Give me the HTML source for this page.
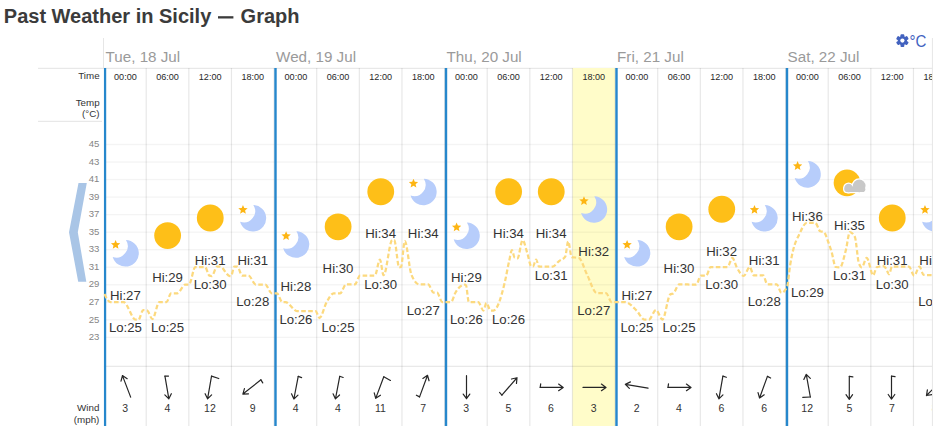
<!DOCTYPE html>
<html><head><meta charset="utf-8"><style>
html,body{margin:0;padding:0;background:#fff;width:940px;height:426px;overflow:hidden}
svg{display:block}
text{font-family:"Liberation Sans", sans-serif}
</style></head><body>
<svg width="940" height="426" viewBox="0 0 940 426">
<defs><clipPath id="chart"><rect x="103.7" y="68" width="828.30" height="358"/></clipPath>
<clipPath id="top"><rect x="103.7" y="38" width="828.30" height="30"/></clipPath></defs>

<text x="3.8" y="22.8" font-size="20" font-weight="bold" fill="#3b3b3b">Past Weather in Sicily</text>
<rect x="218" y="16.2" width="15.4" height="2.3" fill="#3b3b3b"/>
<text x="240.6" y="22.8" font-size="20" font-weight="bold" fill="#3b3b3b">Graph</text>
<g transform="translate(902.4,40.6)" fill="#4262bf"><circle r="4.5"/><rect x="-1.9" y="-6.3" width="3.8" height="3.6" rx="0.9" transform="rotate(0)"/><rect x="-1.9" y="-6.3" width="3.8" height="3.6" rx="0.9" transform="rotate(60)"/><rect x="-1.9" y="-6.3" width="3.8" height="3.6" rx="0.9" transform="rotate(120)"/><rect x="-1.9" y="-6.3" width="3.8" height="3.6" rx="0.9" transform="rotate(180)"/><rect x="-1.9" y="-6.3" width="3.8" height="3.6" rx="0.9" transform="rotate(240)"/><rect x="-1.9" y="-6.3" width="3.8" height="3.6" rx="0.9" transform="rotate(300)"/><circle r="2.1" fill="#fff"/></g>
<text x="0" y="0" font-size="16.2" fill="#4262bf" transform="translate(909.6,47.2) scale(0.93,1)">°C</text>
<rect x="38" y="67.8" width="894.4" height="1.1" fill="#e6e6e6"/>
<rect x="38" y="120.8" width="64" height="1.1" fill="#e6e6e6"/>
<rect x="103" y="38" width="1" height="30" fill="#e6e6e6"/>
<rect x="931.9" y="38" width="1" height="388" fill="#e6e6e6"/>
<g clip-path="url(#top)">
<text x="105.60" y="62.4" font-size="15.2" fill="#9a9a9a">Tue, 18 Jul</text>
<text x="276.10" y="62.4" font-size="15.2" fill="#9a9a9a">Wed, 19 Jul</text>
<text x="446.60" y="62.4" font-size="15.2" fill="#9a9a9a">Thu, 20 Jul</text>
<text x="617.10" y="62.4" font-size="15.2" fill="#9a9a9a">Fri, 21 Jul</text>
<text x="787.60" y="62.4" font-size="15.2" fill="#9a9a9a">Sat, 22 Jul</text>
</g>
<g clip-path="url(#chart)">
<rect x="572.58" y="68" width="42.62" height="358" fill="#fffcc9"/>
<rect x="103.7" y="336.65" width="830" height="1.4" fill="#000" fill-opacity="0.045"/>
<rect x="103.7" y="319.12" width="830" height="1.4" fill="#000" fill-opacity="0.045"/>
<rect x="103.7" y="301.59" width="830" height="1.4" fill="#000" fill-opacity="0.045"/>
<rect x="103.7" y="284.06" width="830" height="1.4" fill="#000" fill-opacity="0.045"/>
<rect x="103.7" y="266.52" width="830" height="1.4" fill="#000" fill-opacity="0.045"/>
<rect x="103.7" y="248.99" width="830" height="1.4" fill="#000" fill-opacity="0.045"/>
<rect x="103.7" y="231.46" width="830" height="1.4" fill="#000" fill-opacity="0.045"/>
<rect x="103.7" y="213.93" width="830" height="1.4" fill="#000" fill-opacity="0.045"/>
<rect x="103.7" y="196.40" width="830" height="1.4" fill="#000" fill-opacity="0.045"/>
<rect x="103.7" y="178.86" width="830" height="1.4" fill="#000" fill-opacity="0.045"/>
<rect x="103.7" y="161.33" width="830" height="1.4" fill="#000" fill-opacity="0.045"/>
<rect x="103.7" y="143.80" width="830" height="1.4" fill="#000" fill-opacity="0.045"/>
<rect x="103.7" y="365.7" width="830" height="1.3" fill="#000" fill-opacity="0.085"/>
<rect x="145.62" y="68" width="1.2" height="358" fill="rgba(0,0,0,0.095)"/>
<rect x="188.25" y="68" width="1.2" height="358" fill="rgba(0,0,0,0.095)"/>
<rect x="230.88" y="68" width="1.2" height="358" fill="rgba(0,0,0,0.095)"/>
<rect x="273.50" y="68" width="1.2" height="358" fill="rgba(0,0,0,0.095)"/>
<rect x="316.12" y="68" width="1.2" height="358" fill="rgba(0,0,0,0.095)"/>
<rect x="358.75" y="68" width="1.2" height="358" fill="rgba(0,0,0,0.095)"/>
<rect x="401.38" y="68" width="1.2" height="358" fill="rgba(0,0,0,0.095)"/>
<rect x="444.00" y="68" width="1.2" height="358" fill="rgba(0,0,0,0.095)"/>
<rect x="486.62" y="68" width="1.2" height="358" fill="rgba(0,0,0,0.095)"/>
<rect x="529.25" y="68" width="1.2" height="358" fill="rgba(0,0,0,0.095)"/>
<rect x="571.88" y="68" width="1.2" height="358" fill="rgba(0,0,0,0.095)"/>
<rect x="614.50" y="68" width="1.2" height="358" fill="rgba(0,0,0,0.095)"/>
<rect x="657.12" y="68" width="1.2" height="358" fill="rgba(0,0,0,0.095)"/>
<rect x="699.75" y="68" width="1.2" height="358" fill="rgba(0,0,0,0.095)"/>
<rect x="742.38" y="68" width="1.2" height="358" fill="rgba(0,0,0,0.095)"/>
<rect x="785.00" y="68" width="1.2" height="358" fill="rgba(0,0,0,0.095)"/>
<rect x="827.62" y="68" width="1.2" height="358" fill="rgba(0,0,0,0.095)"/>
<rect x="870.25" y="68" width="1.2" height="358" fill="rgba(0,0,0,0.095)"/>
<rect x="912.88" y="68" width="1.2" height="358" fill="rgba(0,0,0,0.095)"/>
<rect x="955.50" y="68" width="1.2" height="358" fill="rgba(0,0,0,0.095)"/>
<rect x="103.80" y="68" width="2.4" height="358" fill="#2687cc"/>
<rect x="274.30" y="68" width="2.4" height="358" fill="#2687cc"/>
<rect x="444.80" y="68" width="2.4" height="358" fill="#2687cc"/>
<rect x="615.30" y="68" width="2.4" height="358" fill="#2687cc"/>
<rect x="785.80" y="68" width="2.4" height="358" fill="#2687cc"/>
<path d="M104.40,293.90 C106.37,297.95 108.33,302.00 110.30,302.00 C114.70,302.00 119.10,302.00 123.50,302.00 C127.57,302.00 131.63,319.70 135.70,319.70 C136.63,319.70 137.57,319.70 138.50,319.70 C140.07,319.70 141.63,310.00 143.20,310.00 C144.47,310.00 145.73,310.13 147.00,310.40 C148.80,310.78 150.60,319.00 152.40,319.00 C154.73,319.00 157.07,302.00 159.40,302.00 C161.77,302.00 164.13,302.00 166.50,302.00 C168.00,302.00 169.50,293.30 171.00,293.30 C173.13,293.30 175.27,293.30 177.40,293.30 C180.00,293.30 182.60,284.60 185.20,284.60 C186.47,284.60 187.73,284.60 189.00,284.60 C191.10,284.60 193.20,267.00 195.30,267.00 C198.53,267.00 201.77,267.00 205.00,267.00 C206.50,267.00 208.00,275.31 209.50,275.70 C210.27,275.90 211.03,276.00 211.80,276.00 C213.53,276.00 215.27,266.60 217.00,266.60 C218.00,266.60 219.00,266.60 220.00,266.60 C223.27,266.60 226.53,276.00 229.80,276.00 C230.20,276.00 230.60,276.00 231.00,276.00 C232.13,276.00 233.27,266.60 234.40,266.60 C235.40,266.60 236.40,266.60 237.40,266.60 C238.97,266.60 240.53,275.50 242.10,275.50 C244.20,275.50 246.30,275.50 248.40,275.50 C250.87,275.50 253.33,284.50 255.80,284.50 C258.97,284.50 262.13,284.50 265.30,284.50 C267.43,284.50 269.57,293.30 271.70,293.30 C273.47,293.30 275.23,293.30 277.00,293.30 C278.73,293.30 280.47,302.00 282.20,302.00 C283.27,302.00 284.33,302.00 285.40,302.00 C289.27,302.00 293.13,311.00 297.00,311.00 C303.20,311.00 309.40,311.00 315.60,311.00 C316.90,311.00 318.20,318.00 319.50,318.00 C321.87,318.00 324.23,306.42 326.60,302.30 C328.97,298.18 331.33,293.30 333.70,293.30 C335.87,293.30 338.03,293.30 340.20,293.30 C342.13,293.30 344.07,284.40 346.00,284.40 C349.00,284.40 352.00,284.40 355.00,284.40 C356.67,284.40 358.33,275.50 360.00,275.50 C364.97,275.50 369.93,275.50 374.90,275.50 C376.57,275.50 378.23,259.60 379.90,259.60 C381.13,259.60 382.37,275.20 383.60,275.20 C386.50,275.20 389.40,240.00 392.30,240.00 C392.93,240.00 393.57,240.00 394.20,240.00 C395.87,240.00 397.53,267.40 399.20,267.40 C399.80,267.40 400.40,267.27 401.00,267.00 C402.27,266.44 403.53,241.00 404.80,241.00 C407.00,241.00 409.20,269.21 411.40,274.60 C414.07,281.13 416.73,284.40 419.40,284.40 C422.33,284.40 425.27,284.40 428.20,284.40 C429.97,284.40 431.73,292.60 433.50,292.60 C434.67,292.60 435.83,292.60 437.00,292.60 C438.77,292.60 440.53,302.00 442.30,302.00 C445.20,302.00 448.10,302.00 451.00,302.00 C452.50,302.00 454.00,295.04 455.50,292.50 C458.57,287.30 461.63,284.70 464.70,284.70 C465.13,284.70 465.57,284.90 466.00,285.30 C466.93,286.16 467.87,302.00 468.80,302.00 C471.93,302.00 475.07,302.00 478.20,302.00 C479.97,302.00 481.73,310.50 483.50,310.50 C484.47,310.50 485.43,303.00 486.40,303.00 C487.77,303.00 489.13,310.50 490.50,310.50 C491.47,310.50 492.43,310.50 493.40,310.50 C497.27,310.50 501.13,297.78 505.00,281.30 C506.37,275.48 507.73,267.13 509.10,261.30 C510.07,257.18 511.03,250.20 512.00,250.20 C512.83,250.20 513.67,257.00 514.50,257.50 C515.50,258.10 516.50,258.40 517.50,258.40 C519.20,258.40 520.90,240.20 522.60,240.20 C524.17,240.20 525.73,248.36 527.30,253.10 C528.67,257.23 530.03,266.50 531.40,266.50 C531.93,266.50 532.47,266.50 533.00,266.50 C534.03,266.50 535.07,259.60 536.10,259.60 C537.07,259.60 538.03,266.50 539.00,266.50 C543.63,266.50 548.27,266.50 552.90,266.50 C554.87,266.50 556.83,262.89 558.80,261.30 C560.93,259.57 563.07,259.73 565.20,256.60 C566.20,255.13 567.20,241.40 568.20,241.40 C569.37,241.40 570.53,257.00 571.70,257.20 C574.03,257.60 576.37,257.40 578.70,257.80 C581.47,258.27 584.23,269.09 587.00,274.50 C590.30,280.95 593.60,293.20 596.90,293.20 C599.97,293.20 603.03,293.20 606.10,293.20 C607.90,293.20 609.70,302.00 611.50,302.00 C616.00,302.00 620.50,302.00 625.00,302.00 C628.87,302.00 632.73,306.81 636.60,310.60 C639.20,313.15 641.80,319.50 644.40,319.50 C645.90,319.50 647.40,319.50 648.90,319.50 C651.27,319.50 653.63,310.00 656.00,310.00 C658.13,310.00 660.27,319.50 662.40,319.50 C665.00,319.50 667.60,296.45 670.20,294.50 C671.27,293.70 672.33,294.10 673.40,293.30 C675.33,291.85 677.27,284.40 679.20,284.40 C684.90,284.40 690.60,284.60 696.30,284.60 C697.80,284.60 699.30,275.70 700.80,275.70 C702.60,275.70 704.40,275.70 706.20,275.70 C707.67,275.70 709.13,267.00 710.60,267.00 C716.23,267.00 721.87,267.00 727.50,267.00 C729.13,267.00 730.77,257.90 732.40,257.90 C733.80,257.90 735.20,264.45 736.60,267.00 C739.00,271.36 741.40,275.80 743.80,275.80 C745.77,275.80 747.73,267.00 749.70,267.00 C751.07,267.00 752.43,275.30 753.80,275.30 C756.93,275.30 760.07,275.30 763.20,275.30 C764.57,275.30 765.93,284.30 767.30,284.30 C770.43,284.30 773.57,284.30 776.70,284.30 C778.27,284.30 779.83,292.80 781.40,292.80 C783.33,292.80 785.27,290.67 787.20,286.40 C788.13,284.34 789.07,271.82 790.00,266.00 C791.17,258.73 792.33,253.46 793.50,248.80 C795.37,241.35 797.23,238.64 799.10,234.70 C801.67,229.29 804.23,222.80 806.80,222.80 C809.63,222.80 812.47,222.80 815.30,222.80 C816.93,222.80 818.57,230.55 820.20,231.20 C821.37,231.67 822.53,231.43 823.70,231.90 C825.37,232.57 827.03,238.64 828.70,243.20 C829.63,245.75 830.57,248.55 831.50,251.60 C832.90,256.17 834.30,266.67 835.70,267.00 C837.10,267.33 838.50,267.50 839.90,267.50 C841.90,267.50 843.90,257.62 845.90,249.90 C847.23,244.76 848.57,232.00 849.90,232.00 C851.57,232.00 853.23,233.67 854.90,237.00 C856.20,239.60 857.50,259.09 858.80,262.90 C859.80,265.83 860.80,267.30 861.80,267.30 C863.43,267.30 865.07,257.90 866.70,257.90 C868.87,257.90 871.03,275.30 873.20,275.30 C874.37,275.30 875.53,267.73 876.70,267.30 C878.87,266.50 881.03,266.10 883.20,266.10 C884.17,266.10 885.13,267.13 886.10,268.50 C887.07,269.87 888.03,274.30 889.00,274.30 C890.00,274.30 891.00,266.70 892.00,266.70 C897.67,266.70 903.33,266.70 909.00,266.70 C910.73,266.70 912.47,275.70 914.20,275.70 C915.97,275.70 917.73,266.70 919.50,266.70 C920.87,266.70 922.23,274.80 923.60,274.90 C927.40,275.17 931.20,275.23 935.00,275.30" fill="none" stroke="#fcd97e" stroke-width="2.25" stroke-dasharray="4.6 2.4"/>
<g><path d="M125.94,240.00 A13.3,13.3 0 1,1 112.70,256.91 A11.4,11.4 0 0,0 125.94,240.00 Z" fill="#b7cdfb"/><polygon points="115.60,239.99 116.90,243.10 120.26,243.37 117.70,245.57 118.48,248.85 115.60,247.09 112.72,248.85 113.50,245.57 110.94,243.37 114.30,243.10" fill="#fdb513"/></g>
<text x="125.40" y="299.79" font-size="13.2" fill="#333" text-anchor="middle">Hi:27</text>
<text x="125.40" y="332.42" font-size="13.2" fill="#333" text-anchor="middle">Lo:25</text>
<text transform="translate(125.40,80.4) scale(0.92,1)" font-size="9.9" fill="#282828" text-anchor="middle">00:00</text>
<g transform="translate(126.55,386.35) rotate(159.1)" stroke="#262626" stroke-width="1.2" fill="none" stroke-linecap="round" stroke-linejoin="round"><path d="M0,-11.5 L0,11.5 M-3.3,6.9 L0,11.5 L3.3,6.9"/></g>
<text x="125.20" y="412.2" font-size="10.5" fill="#333" text-anchor="middle">3</text>
<circle cx="167.62" cy="235.56" r="13.4" fill="#febf18"/>
<text x="167.53" y="282.26" font-size="13.2" fill="#333" text-anchor="middle">Hi:29</text>
<text x="167.53" y="332.42" font-size="13.2" fill="#333" text-anchor="middle">Lo:25</text>
<text transform="translate(167.53,80.4) scale(0.92,1)" font-size="9.9" fill="#282828" text-anchor="middle">06:00</text>
<g transform="translate(166.90,387.50) rotate(-9.8)" stroke="#262626" stroke-width="1.2" fill="none" stroke-linecap="round" stroke-linejoin="round"><path d="M0,-11.5 L0,11.5 M-3.3,6.9 L0,11.5 L3.3,6.9"/><path d="M0,-11.5 L3.56,-11.00"/></g>
<text x="167.32" y="412.2" font-size="10.5" fill="#333" text-anchor="middle">4</text>
<circle cx="210.25" cy="218.02" r="13.4" fill="#febf18"/>
<text x="210.15" y="264.72" font-size="13.2" fill="#333" text-anchor="middle">Hi:31</text>
<text x="210.15" y="288.59" font-size="13.2" fill="#333" text-anchor="middle">Lo:30</text>
<text transform="translate(210.15,80.4) scale(0.92,1)" font-size="9.9" fill="#282828" text-anchor="middle">12:00</text>
<g transform="translate(209.55,387.50) rotate(9.9)" stroke="#262626" stroke-width="1.2" fill="none" stroke-linecap="round" stroke-linejoin="round"><path d="M0,-11.5 L0,11.5 M-3.3,6.9 L0,11.5 L3.3,6.9"/><path d="M0,-11.5 L7.53,-10.44"/></g>
<text x="209.95" y="412.2" font-size="10.5" fill="#333" text-anchor="middle">12</text>
<g><path d="M253.31,204.93 A13.3,13.3 0 1,1 240.08,221.84 A11.4,11.4 0 0,0 253.31,204.93 Z" fill="#b7cdfb"/><polygon points="242.97,204.92 244.27,208.04 247.64,208.31 245.07,210.51 245.86,213.79 242.97,212.03 240.09,213.79 240.88,210.51 238.31,208.31 241.68,208.04" fill="#fdb513"/></g>
<text x="252.78" y="264.72" font-size="13.2" fill="#333" text-anchor="middle">Hi:31</text>
<text x="252.78" y="306.12" font-size="13.2" fill="#333" text-anchor="middle">Lo:28</text>
<text transform="translate(252.78,80.4) scale(0.92,1)" font-size="9.9" fill="#282828" text-anchor="middle">18:00</text>
<g transform="translate(251.90,386.95) rotate(51.7)" stroke="#262626" stroke-width="1.2" fill="none" stroke-linecap="round" stroke-linejoin="round"><path d="M0,-11.5 L0,11.5 M-3.3,6.9 L0,11.5 L3.3,6.9"/><path d="M0,-11.5 L3.56,-11.00"/></g>
<text x="252.57" y="412.2" font-size="10.5" fill="#333" text-anchor="middle">9</text>
<g><path d="M296.44,231.23 A13.3,13.3 0 1,1 283.20,248.14 A11.4,11.4 0 0,0 296.44,231.23 Z" fill="#b7cdfb"/><polygon points="286.10,231.22 287.40,234.34 290.76,234.61 288.20,236.80 288.98,240.09 286.10,238.33 283.22,240.09 284.00,236.80 281.44,234.61 284.80,234.34" fill="#fdb513"/></g>
<text x="295.90" y="291.02" font-size="13.2" fill="#333" text-anchor="middle">Hi:28</text>
<text x="295.90" y="323.65" font-size="13.2" fill="#333" text-anchor="middle">Lo:26</text>
<text transform="translate(295.90,80.4) scale(0.92,1)" font-size="9.9" fill="#282828" text-anchor="middle">00:00</text>
<g transform="translate(296.05,387.70) rotate(10.9)" stroke="#262626" stroke-width="1.2" fill="none" stroke-linecap="round" stroke-linejoin="round"><path d="M0,-11.5 L0,11.5 M-3.3,6.9 L0,11.5 L3.3,6.9"/><path d="M0,-11.5 L3.56,-11.00"/></g>
<text x="295.70" y="412.2" font-size="10.5" fill="#333" text-anchor="middle">4</text>
<circle cx="338.12" cy="226.79" r="13.4" fill="#febf18"/>
<text x="338.02" y="273.49" font-size="13.2" fill="#333" text-anchor="middle">Hi:30</text>
<text x="338.02" y="332.42" font-size="13.2" fill="#333" text-anchor="middle">Lo:25</text>
<text transform="translate(338.02,80.4) scale(0.92,1)" font-size="9.9" fill="#282828" text-anchor="middle">06:00</text>
<g transform="translate(337.60,387.60) rotate(10.7)" stroke="#262626" stroke-width="1.2" fill="none" stroke-linecap="round" stroke-linejoin="round"><path d="M0,-11.5 L0,11.5 M-3.3,6.9 L0,11.5 L3.3,6.9"/><path d="M0,-11.5 L3.56,-11.00"/></g>
<text x="337.82" y="412.2" font-size="10.5" fill="#333" text-anchor="middle">4</text>
<circle cx="380.75" cy="191.73" r="13.4" fill="#febf18"/>
<text x="380.65" y="238.43" font-size="13.2" fill="#333" text-anchor="middle">Hi:34</text>
<text x="380.65" y="288.59" font-size="13.2" fill="#333" text-anchor="middle">Lo:30</text>
<text transform="translate(380.65,80.4) scale(0.92,1)" font-size="9.9" fill="#282828" text-anchor="middle">12:00</text>
<g transform="translate(379.75,387.60) rotate(20.5)" stroke="#262626" stroke-width="1.2" fill="none" stroke-linecap="round" stroke-linejoin="round"><path d="M0,-11.5 L0,11.5 M-3.3,6.9 L0,11.5 L3.3,6.9"/><path d="M0,-11.5 L7.53,-10.44"/></g>
<text x="380.45" y="412.2" font-size="10.5" fill="#333" text-anchor="middle">11</text>
<g><path d="M423.81,178.63 A13.3,13.3 0 1,1 410.58,195.54 A11.4,11.4 0 0,0 423.81,178.63 Z" fill="#b7cdfb"/><polygon points="413.48,178.63 414.77,181.74 418.14,182.01 415.57,184.21 416.36,187.49 413.48,185.73 410.59,187.49 411.38,184.21 408.81,182.01 412.18,181.74" fill="#fdb513"/></g>
<text x="423.27" y="238.43" font-size="13.2" fill="#333" text-anchor="middle">Hi:34</text>
<text x="423.27" y="314.89" font-size="13.2" fill="#333" text-anchor="middle">Lo:27</text>
<text transform="translate(423.27,80.4) scale(0.92,1)" font-size="9.9" fill="#282828" text-anchor="middle">18:00</text>
<g transform="translate(423.55,386.10) rotate(200.3)" stroke="#262626" stroke-width="1.2" fill="none" stroke-linecap="round" stroke-linejoin="round"><path d="M0,-11.5 L0,11.5 M-3.3,6.9 L0,11.5 L3.3,6.9"/><path d="M0,-11.5 L3.56,-11.00"/></g>
<text x="423.07" y="412.2" font-size="10.5" fill="#333" text-anchor="middle">7</text>
<g><path d="M466.94,222.46 A13.3,13.3 0 1,1 453.70,239.37 A11.4,11.4 0 0,0 466.94,222.46 Z" fill="#b7cdfb"/><polygon points="456.60,222.46 457.90,225.57 461.26,225.84 458.70,228.04 459.48,231.32 456.60,229.56 453.72,231.32 454.50,228.04 451.94,225.84 455.30,225.57" fill="#fdb513"/></g>
<text x="466.40" y="282.26" font-size="13.2" fill="#333" text-anchor="middle">Hi:29</text>
<text x="466.40" y="323.65" font-size="13.2" fill="#333" text-anchor="middle">Lo:26</text>
<text transform="translate(466.40,80.4) scale(0.92,1)" font-size="9.9" fill="#282828" text-anchor="middle">00:00</text>
<g transform="translate(466.50,387.20) rotate(0)" stroke="#262626" stroke-width="1.2" fill="none" stroke-linecap="round" stroke-linejoin="round"><path d="M0,-11.5 L0,11.5 M-3.3,6.9 L0,11.5 L3.3,6.9"/></g>
<text x="466.20" y="412.2" font-size="10.5" fill="#333" text-anchor="middle">3</text>
<circle cx="508.62" cy="191.73" r="13.4" fill="#febf18"/>
<text x="508.52" y="238.43" font-size="13.2" fill="#333" text-anchor="middle">Hi:34</text>
<text x="508.52" y="323.65" font-size="13.2" fill="#333" text-anchor="middle">Lo:26</text>
<text transform="translate(508.52,80.4) scale(0.92,1)" font-size="9.9" fill="#282828" text-anchor="middle">06:00</text>
<g transform="translate(509.45,386.40) rotate(221.1)" stroke="#262626" stroke-width="1.2" fill="none" stroke-linecap="round" stroke-linejoin="round"><path d="M0,-11.5 L0,11.5 M-3.3,6.9 L0,11.5 L3.3,6.9"/><path d="M0,-11.5 L3.56,-11.00"/></g>
<text x="508.32" y="412.2" font-size="10.5" fill="#333" text-anchor="middle">5</text>
<circle cx="551.25" cy="191.73" r="13.4" fill="#febf18"/>
<text x="551.15" y="238.43" font-size="13.2" fill="#333" text-anchor="middle">Hi:34</text>
<text x="551.15" y="279.82" font-size="13.2" fill="#333" text-anchor="middle">Lo:31</text>
<text transform="translate(551.15,80.4) scale(0.92,1)" font-size="9.9" fill="#282828" text-anchor="middle">12:00</text>
<g transform="translate(551.70,387.40) rotate(-90)" stroke="#262626" stroke-width="1.2" fill="none" stroke-linecap="round" stroke-linejoin="round"><path d="M0,-11.5 L0,11.5 M-3.3,6.9 L0,11.5 L3.3,6.9"/><path d="M0,-11.5 L3.56,-11.00"/></g>
<text x="550.95" y="412.2" font-size="10.5" fill="#333" text-anchor="middle">6</text>
<g><path d="M594.31,196.17 A13.3,13.3 0 1,1 581.08,213.08 A11.4,11.4 0 0,0 594.31,196.17 Z" fill="#b7cdfb"/><polygon points="583.98,196.16 585.27,199.27 588.64,199.54 586.07,201.74 586.86,205.02 583.98,203.26 581.09,205.02 581.88,201.74 579.31,199.54 582.68,199.27" fill="#fdb513"/></g>
<text x="593.77" y="255.96" font-size="13.2" fill="#333" text-anchor="middle">Hi:32</text>
<text x="593.77" y="314.89" font-size="13.2" fill="#333" text-anchor="middle">Lo:27</text>
<text transform="translate(593.77,80.4) scale(0.92,1)" font-size="9.9" fill="#282828" text-anchor="middle">18:00</text>
<g transform="translate(594.50,387.40) rotate(-90)" stroke="#262626" stroke-width="1.2" fill="none" stroke-linecap="round" stroke-linejoin="round"><path d="M0,-11.5 L0,11.5 M-3.3,6.9 L0,11.5 L3.3,6.9"/></g>
<text x="593.58" y="412.2" font-size="10.5" fill="#333" text-anchor="middle">3</text>
<g><path d="M637.44,240.00 A13.3,13.3 0 1,1 624.20,256.91 A11.4,11.4 0 0,0 637.44,240.00 Z" fill="#b7cdfb"/><polygon points="627.10,239.99 628.40,243.10 631.76,243.37 629.20,245.57 629.98,248.85 627.10,247.09 624.22,248.85 625.00,245.57 622.44,243.37 625.80,243.10" fill="#fdb513"/></g>
<text x="636.90" y="299.79" font-size="13.2" fill="#333" text-anchor="middle">Hi:27</text>
<text x="636.90" y="332.42" font-size="13.2" fill="#333" text-anchor="middle">Lo:25</text>
<text transform="translate(636.90,80.4) scale(0.92,1)" font-size="9.9" fill="#282828" text-anchor="middle">00:00</text>
<g transform="translate(636.70,386.30) rotate(99.5)" stroke="#262626" stroke-width="1.2" fill="none" stroke-linecap="round" stroke-linejoin="round"><path d="M0,-11.5 L0,11.5 M-3.3,6.9 L0,11.5 L3.3,6.9"/></g>
<text x="636.70" y="412.2" font-size="10.5" fill="#333" text-anchor="middle">2</text>
<circle cx="679.12" cy="226.79" r="13.4" fill="#febf18"/>
<text x="679.02" y="273.49" font-size="13.2" fill="#333" text-anchor="middle">Hi:30</text>
<text x="679.02" y="332.42" font-size="13.2" fill="#333" text-anchor="middle">Lo:25</text>
<text transform="translate(679.02,80.4) scale(0.92,1)" font-size="9.9" fill="#282828" text-anchor="middle">06:00</text>
<g transform="translate(679.50,387.40) rotate(-90)" stroke="#262626" stroke-width="1.2" fill="none" stroke-linecap="round" stroke-linejoin="round"><path d="M0,-11.5 L0,11.5 M-3.3,6.9 L0,11.5 L3.3,6.9"/><path d="M0,-11.5 L3.56,-11.00"/></g>
<text x="678.83" y="412.2" font-size="10.5" fill="#333" text-anchor="middle">4</text>
<circle cx="721.75" cy="209.26" r="13.4" fill="#febf18"/>
<text x="721.65" y="255.96" font-size="13.2" fill="#333" text-anchor="middle">Hi:32</text>
<text x="721.65" y="288.59" font-size="13.2" fill="#333" text-anchor="middle">Lo:30</text>
<text transform="translate(721.65,80.4) scale(0.92,1)" font-size="9.9" fill="#282828" text-anchor="middle">12:00</text>
<g transform="translate(720.90,387.50) rotate(10)" stroke="#262626" stroke-width="1.2" fill="none" stroke-linecap="round" stroke-linejoin="round"><path d="M0,-11.5 L0,11.5 M-3.3,6.9 L0,11.5 L3.3,6.9"/><path d="M0,-11.5 L3.56,-11.00"/></g>
<text x="721.45" y="412.2" font-size="10.5" fill="#333" text-anchor="middle">6</text>
<g><path d="M764.81,204.93 A13.3,13.3 0 1,1 751.58,221.84 A11.4,11.4 0 0,0 764.81,204.93 Z" fill="#b7cdfb"/><polygon points="754.48,204.92 755.77,208.04 759.14,208.31 756.57,210.51 757.36,213.79 754.48,212.03 751.59,213.79 752.38,210.51 749.81,208.31 753.18,208.04" fill="#fdb513"/></g>
<text x="764.27" y="264.72" font-size="13.2" fill="#333" text-anchor="middle">Hi:31</text>
<text x="764.27" y="306.12" font-size="13.2" fill="#333" text-anchor="middle">Lo:28</text>
<text transform="translate(764.27,80.4) scale(0.92,1)" font-size="9.9" fill="#282828" text-anchor="middle">18:00</text>
<g transform="translate(763.50,387.20) rotate(20)" stroke="#262626" stroke-width="1.2" fill="none" stroke-linecap="round" stroke-linejoin="round"><path d="M0,-11.5 L0,11.5 M-3.3,6.9 L0,11.5 L3.3,6.9"/><path d="M0,-11.5 L3.56,-11.00"/></g>
<text x="764.08" y="412.2" font-size="10.5" fill="#333" text-anchor="middle">6</text>
<g><path d="M807.94,161.10 A13.3,13.3 0 1,1 794.70,178.01 A11.4,11.4 0 0,0 807.94,161.10 Z" fill="#b7cdfb"/><polygon points="797.60,161.09 798.90,164.21 802.26,164.48 799.70,166.68 800.48,169.96 797.60,168.20 794.72,169.96 795.50,166.68 792.94,164.48 796.30,164.21" fill="#fdb513"/></g>
<text x="807.40" y="220.89" font-size="13.2" fill="#333" text-anchor="middle">Hi:36</text>
<text x="807.40" y="297.36" font-size="13.2" fill="#333" text-anchor="middle">Lo:29</text>
<text transform="translate(807.40,80.4) scale(0.92,1)" font-size="9.9" fill="#282828" text-anchor="middle">00:00</text>
<g transform="translate(808.30,385.70) rotate(169.8)" stroke="#262626" stroke-width="1.2" fill="none" stroke-linecap="round" stroke-linejoin="round"><path d="M0,-11.5 L0,11.5 M-3.3,6.9 L0,11.5 L3.3,6.9"/><path d="M0,-11.5 L7.53,-10.44"/></g>
<text x="807.20" y="412.2" font-size="10.5" fill="#333" text-anchor="middle">12</text>
<circle cx="847.02" cy="182.86" r="13.35" fill="#febf18"/><g fill="#fff" stroke="#fff" stroke-width="2.6"><circle cx="859.23" cy="185.86" r="6.3"/><circle cx="848.62" cy="187.96" r="4.2"/><rect x="844.42" y="186.46" width="20.9" height="5.6" rx="2.8"/></g><g fill="#c8c8c8"><circle cx="859.23" cy="185.86" r="6.3"/><circle cx="848.62" cy="187.96" r="4.2"/><rect x="844.42" y="186.46" width="20.9" height="5.6" rx="2.8"/></g>
<text x="849.52" y="229.66" font-size="13.2" fill="#333" text-anchor="middle">Hi:35</text>
<text x="849.52" y="279.82" font-size="13.2" fill="#333" text-anchor="middle">Lo:31</text>
<text transform="translate(849.52,80.4) scale(0.92,1)" font-size="9.9" fill="#282828" text-anchor="middle">06:00</text>
<g transform="translate(849.30,387.80) rotate(0)" stroke="#262626" stroke-width="1.2" fill="none" stroke-linecap="round" stroke-linejoin="round"><path d="M0,-11.5 L0,11.5 M-3.3,6.9 L0,11.5 L3.3,6.9"/><path d="M0,-11.5 L3.56,-11.00"/></g>
<text x="849.33" y="412.2" font-size="10.5" fill="#333" text-anchor="middle">5</text>
<circle cx="892.25" cy="218.02" r="13.4" fill="#febf18"/>
<text x="892.15" y="264.72" font-size="13.2" fill="#333" text-anchor="middle">Hi:31</text>
<text x="892.15" y="288.59" font-size="13.2" fill="#333" text-anchor="middle">Lo:30</text>
<text transform="translate(892.15,80.4) scale(0.92,1)" font-size="9.9" fill="#282828" text-anchor="middle">12:00</text>
<g transform="translate(891.50,387.60) rotate(0)" stroke="#262626" stroke-width="1.2" fill="none" stroke-linecap="round" stroke-linejoin="round"><path d="M0,-11.5 L0,11.5 M-3.3,6.9 L0,11.5 L3.3,6.9"/><path d="M0,-11.5 L3.56,-11.00"/></g>
<text x="891.95" y="412.2" font-size="10.5" fill="#333" text-anchor="middle">7</text>
<g><path d="M935.31,204.93 A13.3,13.3 0 1,1 922.08,221.84 A11.4,11.4 0 0,0 935.31,204.93 Z" fill="#b7cdfb"/><polygon points="924.98,204.92 926.27,208.04 929.64,208.31 927.07,210.51 927.86,213.79 924.98,212.03 922.09,213.79 922.88,210.51 920.31,208.31 923.68,208.04" fill="#fdb513"/></g>
<text x="934.77" y="264.72" font-size="13.2" fill="#333" text-anchor="middle">Hi:31</text>
<text x="934.77" y="306.12" font-size="13.2" fill="#333" text-anchor="middle">Lo:28</text>
<text transform="translate(934.77,80.4) scale(0.92,1)" font-size="9.9" fill="#282828" text-anchor="middle">18:00</text>
<g transform="translate(934.60,387.40) rotate(45)" stroke="#262626" stroke-width="1.2" fill="none" stroke-linecap="round" stroke-linejoin="round"><path d="M0,-11.5 L0,11.5 M-3.3,6.9 L0,11.5 L3.3,6.9"/><path d="M0,-11.5 L3.56,-11.00"/></g>
<text x="934.58" y="412.2" font-size="10.5" fill="#333" text-anchor="middle">8</text>
</g>
<polygon points="78.5,183 86.8,183 77.8,232.3 86.3,281.7 78.2,281.7 69,232.3" fill="#a9c5e6"/>
<text x="99.6" y="79.3" font-size="9.8" fill="#333" text-anchor="end">Time</text>
<text x="99.6" y="105.6" font-size="9.8" fill="#333" text-anchor="end">Temp</text>
<text x="99.6" y="117.4" font-size="9.8" fill="#333" text-anchor="end">(°C)</text>
<text x="99.4" y="340.05" font-size="9.6" fill="#858585" text-anchor="end">23</text>
<text x="99.4" y="322.52" font-size="9.6" fill="#858585" text-anchor="end">25</text>
<text x="99.4" y="304.99" font-size="9.6" fill="#858585" text-anchor="end">27</text>
<text x="99.4" y="287.46" font-size="9.6" fill="#858585" text-anchor="end">29</text>
<text x="99.4" y="269.92" font-size="9.6" fill="#858585" text-anchor="end">31</text>
<text x="99.4" y="252.39" font-size="9.6" fill="#858585" text-anchor="end">33</text>
<text x="99.4" y="234.86" font-size="9.6" fill="#858585" text-anchor="end">35</text>
<text x="99.4" y="217.33" font-size="9.6" fill="#858585" text-anchor="end">37</text>
<text x="99.4" y="199.80" font-size="9.6" fill="#858585" text-anchor="end">39</text>
<text x="99.4" y="182.26" font-size="9.6" fill="#858585" text-anchor="end">41</text>
<text x="99.4" y="164.73" font-size="9.6" fill="#858585" text-anchor="end">43</text>
<text x="99.4" y="147.20" font-size="9.6" fill="#858585" text-anchor="end">45</text>
<text x="99.4" y="411.1" font-size="9.8" fill="#333" text-anchor="end">Wind</text>
<text x="99.4" y="423" font-size="9.8" fill="#333" text-anchor="end">(mph)</text>
</svg></body></html>
